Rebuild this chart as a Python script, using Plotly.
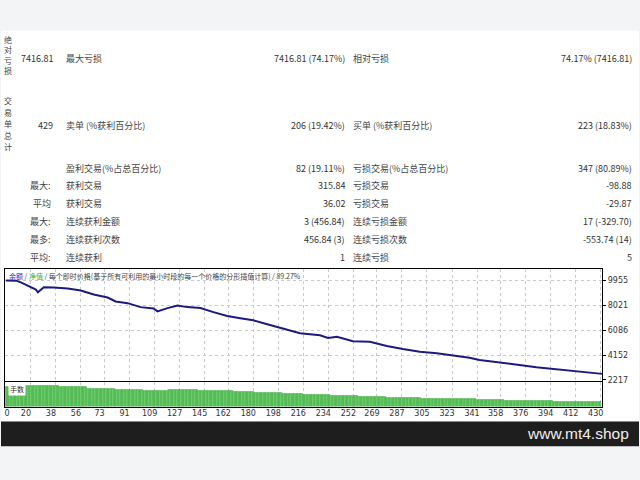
import plotly.graph_objects as go

# ---------------- data ----------------
trade_idx = [2.0, 5.7, 9.2, 12.8, 16.4, 20.0, 23.6, 25.0, 29.3, 36.5, 46.5, 55.9, 65.2,
             75.2, 81.0, 89.6, 98.9, 108.2, 111.1, 118.3, 125.5, 132.6, 142.0, 151.3,
             161.3, 170.7, 180.0, 190.0, 199.3, 208.7, 213.7, 228.0, 233.8, 240.2, 251.7,
             263.9, 276.1, 287.6, 299.8, 312.0, 323.4, 335.6, 342.8, 359.3, 371.5, 383.7,
             395.2, 407.4, 416.7, 431.0]
balance = [9960, 9955, 9955, 9823, 9645, 9413, 9259, 9050, 9437, 9413, 9336, 9181, 8872,
           8640, 8330, 8198, 7889, 7788, 7556, 7812, 8021, 7889, 7812, 7502,
           7192, 7015, 6860, 6550, 6264, 6009, 5854, 5699, 5490, 5568, 5235,
           5181, 4848, 4616, 4407, 4283, 4097, 3943, 3765, 3510, 3378, 3200,
           3068, 2913, 2813, 2681]

lot_levels = [0.20, 0.21, 0.20, 0.18, 0.17, 0.16, 0.17, 0.16, 0.15, 0.14, 0.13, 0.12,
              0.11, 0.10, 0.09, 0.08, 0.07, 0.06, 0.05]
lot_counts = [15, 25, 20, 20, 20, 18, 22, 25, 15, 20, 15, 20, 20, 20, 25, 40, 20, 35, 35]

x_tick_labels = ["0", "20", "38", "56", "73", "91", "109", "127", "145", "162", "180", "198",
                 "216", "234", "252", "269", "287", "305", "323", "341", "358", "376", "394",
                 "412", "430"]
y_tick_vals = [2217, 4152, 6086, 8021, 9955]

side_groups = [["绝", "对", "亏", "损"], ["交", "易", "单", "总", "计"]]
first_values = ["7416.81", "429", "", "", "", "", "", ""]
row_prefix = ["", "", "", "最大:", "平均", "最大:", "最多:", "平均:"]
left_titles = ["最大亏损", "卖单 (%获利百分比)", "盈利交易(%占总百分比)", "获利交易", "获利交易",
               "连续获利金额", "连续获利次数", "连续获利"]
mid_values = ["7416.81 (74.17%)", "206 (19.42%)", "82 (19.11%)", "315.84", "36.02",
              "3 (456.84)", "456.84 (3)", "1"]
right_titles = ["相对亏损", "买单 (%获利百分比)", "亏损交易(%占总百分比)", "亏损交易", "亏损交易",
                "连续亏损金额", "连续亏损次数", "连续亏损"]
right_values = ["74.17% (7416.81)", "223 (18.83%)", "347 (80.89%)", "-98.88", "-29.87",
                "17 (-329.70)", "-553.74 (14)", "5"]

# ---------------- layout helpers ----------------
W, H = 640, 480
def px(p): return p / W
def py(p): return 1 - p / H

FONT = "Noto Sans CJK SC"
XR = [1.35, 431.0]
grid_vals = [int(t) for t in x_tick_labels[1:]]
label_pos = [max(int(t) - 3.6, 2.8) for t in x_tick_labels]

lots = []
for lv, c in zip(lot_levels, lot_counts):
    lots += [lv] * c
bar_x = list(range(1, len(lots) + 1))

fig = go.Figure()
fig.add_trace(go.Scatter(x=trade_idx, y=balance, mode="lines",
                         line=dict(color="#1b1b7e", width=2),
                         xaxis="x", yaxis="y", hoverinfo="skip"))
fig.add_trace(go.Bar(x=bar_x, y=lots, width=1,
                     marker=dict(color="#72d172", line=dict(color="#2a9e2a", width=0.4)),
                     xaxis="x2", yaxis="y2", hoverinfo="skip"))
fig.add_trace(go.Scatter(x=[XR[0]], y=[0], mode="markers", marker=dict(opacity=0),
                         xaxis="x3", yaxis="y2", hoverinfo="skip"))

grid = dict(showgrid=True, gridcolor="#c9c9c9", griddash="dot", gridwidth=1)
frame = dict(showline=True, linecolor="#000000", linewidth=1, mirror=True, zeroline=False)
dom_x = [px(4), px(603)]

fig.update_layout(
    width=W, height=H, margin=dict(l=0, r=0, t=0, b=0),
    paper_bgcolor="#f3f4f6", plot_bgcolor="#ffffff", showlegend=False,
    bargap=0,
    xaxis=dict(domain=dom_x, range=XR, anchor="y", tickvals=grid_vals,
               showticklabels=False, ticks="", **grid, **frame),
    yaxis=dict(domain=[py(384), py(271)], range=[2140, 10884], anchor="x", side="right",
               tickvals=y_tick_vals, ticktext=[str(v) for v in y_tick_vals],
               ticks="outside", ticklen=3, tickcolor="#000000",
               tickfont=dict(family="DejaVu Sans", size=8, color="#333333"),
               **grid, **frame),
    xaxis2=dict(domain=dom_x, range=XR, anchor="y2", tickvals=grid_vals,
                showticklabels=False, ticks="", **grid, **frame),
    yaxis2=dict(domain=[py(410), py(385)], range=[0, 0.25], anchor="x2", side="right",
                showticklabels=False, showgrid=False, ticks="", **frame),
    xaxis3=dict(domain=dom_x, range=XR, anchor="y2", overlaying="x2", side="bottom",
                tickvals=label_pos, ticktext=x_tick_labels, showgrid=False,
                showline=False, zeroline=False, ticks="",
                tickfont=dict(family="DejaVu Sans", size=8, color="#333333")),
)

shapes = [
    dict(type="rect", xref="paper", yref="paper", x0=0, x1=1, y0=py(425), y1=py(31),
         fillcolor="#ffffff", line=dict(width=0), layer="below"),
    dict(type="rect", xref="paper", yref="paper", x0=0, x1=1, y0=py(450), y1=py(425),
         fillcolor="#1e1e1e", line=dict(width=0), layer="above"),
]
fig.update_layout(shapes=shapes)

ann = []
def text(x, y, s, anchor="left", size=9, color="#3a3a3a", **kw):
    ann.append(dict(x=px(x), y=py(y), xref="paper", yref="paper", text=s, showarrow=False,
                    xanchor=anchor, yanchor="middle",
                    font=dict(family=FONT, size=size, color=color), **kw))

# vertical side labels
for chars, y0, step in zip(side_groups, [39.5, 101.7], [10.6, 11.6]):
    for i, ch in enumerate(chars):
        text(7, y0 + i * step, ch, anchor="center", size=8, color="#444444")

row_y = [58.5, 126.5, 169.5, 187.5, 205.5, 223.5, 241.5, 259.5]
for i, y in enumerate(row_y):
    if first_values[i]:
        text(54, y, first_values[i], anchor="right", color="#333333")
    if row_prefix[i]:
        text(52, y, row_prefix[i], anchor="right", color="#444444")
    text(63, y, left_titles[i], anchor="left", color="#444444")
    text(347, y, mid_values[i], anchor="right", color="#333333")
    text(351, y, right_titles[i], anchor="left", color="#444444")
    text(635, y, right_values[i], anchor="right", color="#333333")

# chart header inside the plot
text(6, 278.5,
     '<span style="color:#2d2dbd">余额</span> / <span style="color:#2fb22f">净值</span> / '
     '每个即时价格(基于所有可利用的最小时段的每一个价格的分形插值计算) / 89.27%',
     anchor="left", size=7, color="#444444")
text(7, 392, "手数", anchor="left", size=7, color="#333333", bgcolor="#ffffff")

# watermark
text(632, 437.5, "www.mt4.shop", anchor="right", size=15.5, color="#eeeeee")
ann[-1]["font"]["family"] = "Liberation Sans"

fig.update_layout(annotations=ann)
fig.write_html("out.html", config={"displayModeBar": False},
               post_script="document.body.style.margin='0';document.body.style.overflow='hidden';")
